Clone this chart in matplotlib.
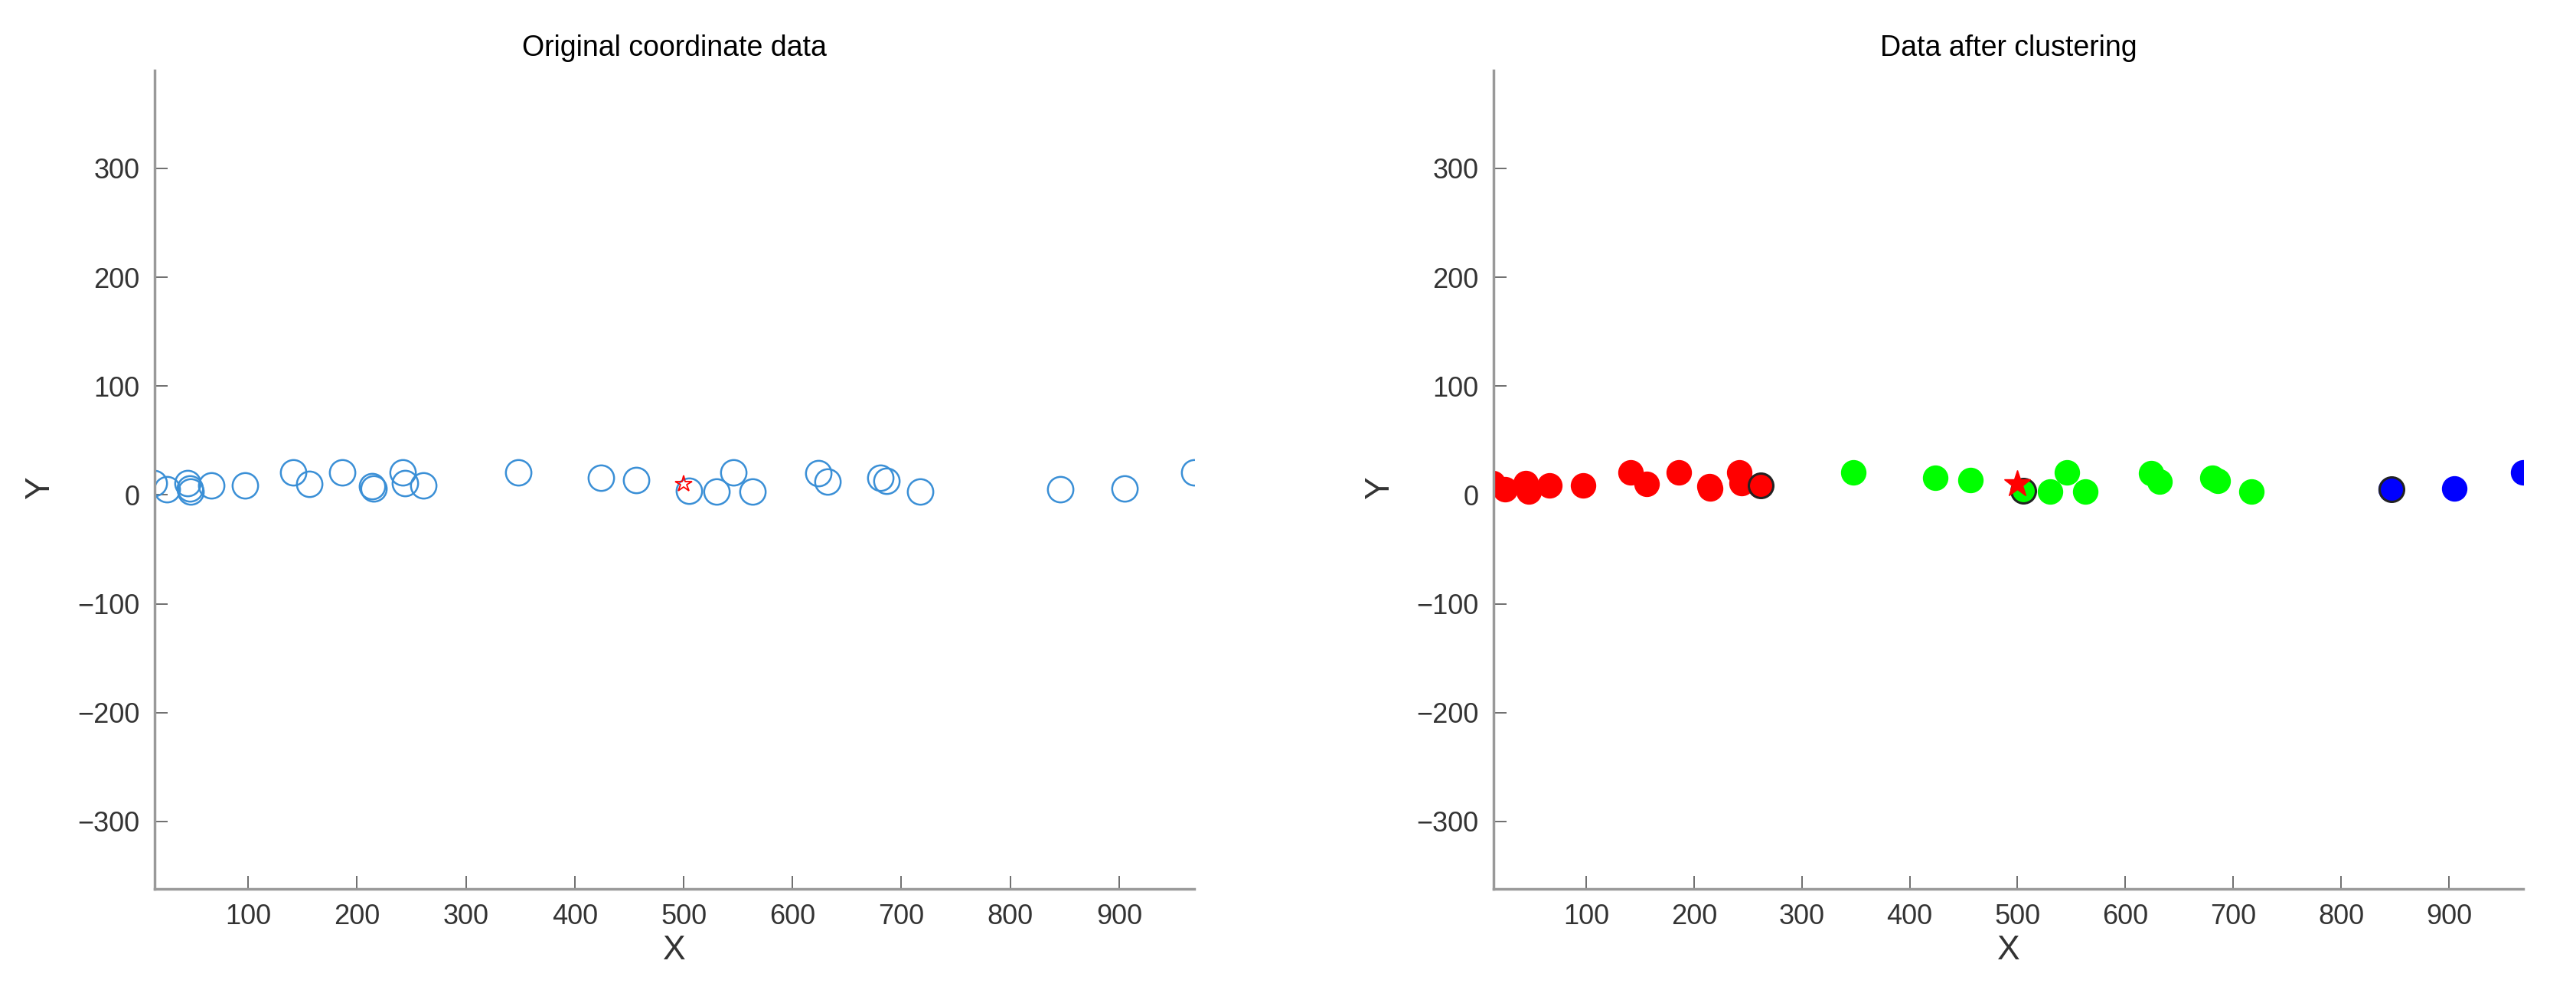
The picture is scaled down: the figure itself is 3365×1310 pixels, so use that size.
import matplotlib.pyplot as plt

plt.rcParams['font.family'] = ['Liberation Sans', 'DejaVu Sans']

# point coordinates
x_red = [13, 25, 44, 46, 47, 66, 97, 141, 156, 186, 214, 215, 242, 244, 261]
y_red = [11, 5, 11, 6, 3, 9, 9, 21, 10, 21, 8, 6, 21, 11, 9]
x_green = [348, 424, 456, 505, 530, 546, 563, 624, 632, 681, 686, 717]
y_green = [21, 16, 14, 4, 3, 21, 3, 20, 12, 16, 13, 3]
x_blue = [846, 905, 969]
y_blue = [5, 6, 21]
x_all = x_red + x_green + x_blue
y_all = y_red + y_green + y_blue
centers_x = [262, 505, 847]
centers_y = [9, 4, 5]
center_colors = ['red', '#00ff00', 'blue']
star_x, star_y = 500, 10

fig = plt.figure(figsize=(33.66, 13.10), dpi=100)
ax1 = fig.add_axes([202 / 3366, 1 - 1161 / 1310, 1358 / 3366, 1069 / 1310])
ax2 = fig.add_axes([1951 / 3366, 1 - 1161 / 1310, 1345 / 3366, 1069 / 1310])

ax1.plot(x_all, y_all, 'o', mfc='none', mec='#3a8fd6', ms=24, mew=1.8)
ax1.plot(star_x, star_y, '*', mfc='none', mec='red', ms=16, mew=1.3)
ax1.set_title('Original coordinate data', fontsize=27, pad=14)

ax2.plot(x_red, y_red, 'o', color='red', ms=23)
ax2.plot(x_green, y_green, 'o', color='#00ff00', ms=23)
ax2.plot(x_blue, y_blue, 'o', color='blue', ms=23)
for cx, cy, cc in zip(centers_x, centers_y, center_colors):
    ax2.plot(cx, cy, 'o', mfc=cc, mec='#222222', ms=23, mew=2.2)
ax2.plot(star_x, star_y, '*', color='red', ms=26)
ax2.set_title('Data after clustering', fontsize=27, pad=14)

for ax in (ax1, ax2):
    ax.set_xlim(14, 969)
    ax.set_ylim(-362, 390)
    ax.set_xticks(range(100, 1000, 100))
    ax.set_yticks(range(-300, 301, 100))
    ax.tick_params(direction='in', length=12, width=1.2, color='#555555',
                   labelsize=26, pad=14, labelcolor='#333333')
    for s in ('top', 'right'):
        ax.spines[s].set_visible(False)
    for s in ('left', 'bottom'):
        ax.spines[s].set_color('#999999')
        ax.spines[s].set_linewidth(2.5)
    ax.set_xlabel('X', fontsize=32, color='#333333', labelpad=4)
    ax.set_ylabel('Y', fontsize=32, color='#333333')
    ax.yaxis.set_label_coords(-0.095, 0.49)

fig.savefig('out.png', dpi=100)
